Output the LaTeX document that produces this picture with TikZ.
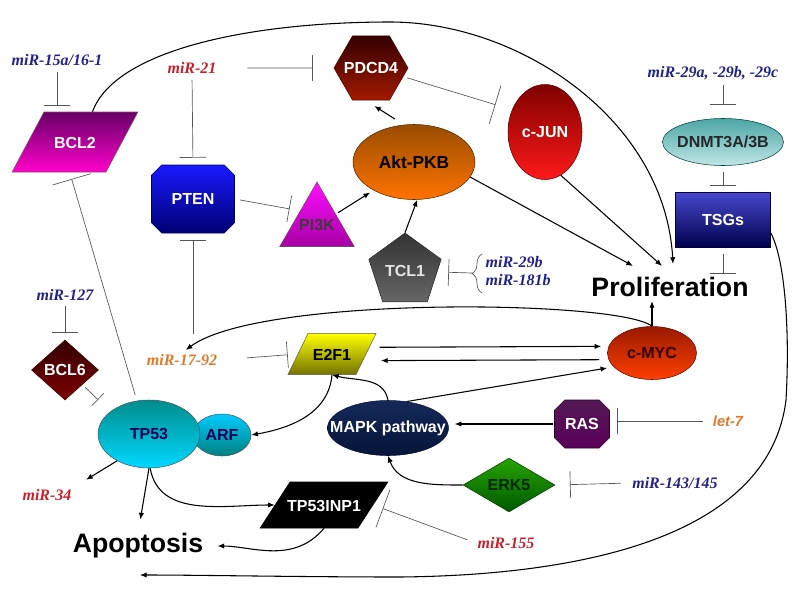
\documentclass[tikz,border=0pt]{standalone}
\usepackage{fontspec}
\setmainfont{Liberation Sans}
\newfontfamily\mirserif{Liberation Serif}
\usetikzlibrary{shapes.geometric,shapes.misc,arrows.meta,calc,decorations.pathreplacing}
\definecolor{mirblue}{HTML}{22228A}
\definecolor{mirred}{HTML}{C8202A}
\definecolor{mirorange}{HTML}{E07828}
\definecolor{inhgray}{HTML}{555555}
\definecolor{mapktop}{HTML}{15295A}
\definecolor{mapkbot}{HTML}{061538}

\begin{document}
\begin{tikzpicture}
        [x=0.75pt,y=-0.75pt,
         gene/.style ={draw,inner sep=0pt,text=white,line width=0.4pt,font=\bfseries\fontsize{12}{14}\selectfont},
         para/.style ={trapezium,text height=9pt,text depth=0pt},
         mir/.style ={inner sep=1pt,font=\mirserif\bfseries\itshape\fontsize{12}{14}\selectfont},
         big/.style ={inner sep=0pt,font=\bfseries\fontsize{20}{24}\selectfont},
         act/.style ={-{Latex[length=5pt,width=4pt]},line width=0.8pt},
         inh/.style ={-{Bar[width=20pt]},line width=0.5pt,draw=inhgray}]
        \useasboundingbox (0,0) rectangle (803,600);
        % genes
        \node[gene,para,trapezium left angle=62,trapezium right angle=118,inner xsep=23.25pt,inner ysep=18pt,top color=black!60!magenta,bottom color=magenta!80!red,draw=black!50!magenta] (bcl2) at (75,142) {\makebox[0pt]{BCL2}};
        \node[gene,regular polygon,regular polygon sides=6,minimum size=55.5pt,top color=black!80!red,bottom color=red!55!black!80!orange,draw=black!70!red] (pdcd4) at (371,68) {\makebox[0pt]{PDCD4}};
        \node[gene,ellipse,minimum width=55.5pt,minimum height=71.25pt,top color=red!50!black,bottom color=red!90!white,draw=red!40!black] (cjun) at (545,132) {c-JUN};
        \node[gene,ellipse,minimum width=91.5pt,minimum height=56.25pt,top color=orange!60!black,bottom color=orange!90!red,draw=black!70!orange,text=black,font=\bfseries\fontsize{13}{15}\selectfont] (akt) at (414,162) {Akt-PKB};
        \node[gene,chamfered rectangle,chamfered rectangle xsep=12.75pt,minimum width=62.25pt,minimum height=51pt,top color=blue!90!white,bottom color=blue!45!black,draw=blue!40!black] (pten) at (193,199) {PTEN};
        \node[gene,regular polygon,regular polygon sides=3,minimum size=64.5pt,top color=magenta!95!white,bottom color=magenta!65!black,draw=magenta!40!black,text=black!85!magenta] (pi3k) at (317,225) {\makebox[0pt]{\raisebox{-3pt}{PI3K}}};
        \node[gene,regular polygon,regular polygon sides=5,minimum size=57pt,top color=black!80,bottom color=black!60,draw=black!85,text=black!10] (tcl1) at (405,271) {TCL1};
        \node[gene,ellipse,minimum width=90.75pt,minimum height=35.25pt,top color=teal!70!white,bottom color=cyan!20!teal!25!white,draw=teal!50!black,text=black!85] (dnmt) at (723,142) {\makebox[0pt]{DNMT3A/3B}};
        \node[gene,rectangle,minimum width=71.25pt,minimum height=41.25pt,top color=blue!65!white!80!black,bottom color=blue!30!black,draw=blue!25!black] (tsgs) at (723,220) {TSGs};
        \node[gene,para,trapezium left angle=64,trapezium right angle=116,inner xsep=18pt,inner ysep=10.9pt,top color=yellow,bottom color=yellow!45!black,draw=yellow!30!black,text=black] (e2f1) at (332,354) {\makebox[0pt]{E2F1}};
        \node[gene,ellipse,minimum width=66.75pt,minimum height=39.75pt,top color=red!50!black!80!orange,bottom color=orange!50!red,draw=red!40!black,text=black!80!red] (cmyc) at (652,353) {c-MYC};
        \node[gene,ellipse,minimum width=90.75pt,minimum height=41.25pt,top color=mapktop,bottom color=mapkbot,draw=mapkbot] (mapk) at (388,428) {\makebox[0pt]{MAPK pathway}};
        \node[gene,chamfered rectangle,chamfered rectangle xsep=8.25pt,minimum width=41.25pt,minimum height=36pt,top color=violet!50!black!90,bottom color=violet!70!magenta!55!black,draw=violet!30!black] (ras) at (582,424) {RAS};
        \node[gene,diamond,minimum width=69pt,minimum height=34.5pt,top color=green!55!black!80!lime,bottom color=green!35!black,draw=green!25!black,text=black!85!green] (erk5) at (509,485) {ERK5};
        \node[gene,ellipse,minimum width=43.5pt,minimum height=31.5pt,top color=cyan!80!blue,bottom color=cyan!50!black,draw=cyan!30!black,text=blue!35!black] (arf) at (222,435) {ARF};
        \node[gene,ellipse,minimum width=76.5pt,minimum height=51pt,top color=cyan!55!black,bottom color=cyan!85!blue,draw=cyan!30!black,text=blue!35!black] (tp53) at (149,434) {TP53};
        \node[gene,diamond,minimum width=50.25pt,minimum height=45pt,top color=red!20!black,bottom color=red!50!black,draw=red!20!black] (bcl6) at (65,370) {BCL6};
        \node[gene,para,trapezium left angle=57,trapezium right angle=123,inner xsep=25.5pt,inner ysep=12.75pt,fill=black] (tp53inp1) at (324,505) {\makebox[0pt]{TP53INP1}};
        % outcomes
        \node[big] (prolif) at (670,287) {Proliferation};
        \node[big] (apop) at (138,546) {Apoptosis};
        \coordinate (apopend) at (140,575);
        % microRNAs
        \node[mir,text=mirblue] (mir15) at (57,60) {miR-15a/16-1};
        \node[mir,text=mirred] (mir21) at (192,68) {miR-21};
        \node[mir,text=mirblue] (mir29) at (713,73) {miR-29a, -29b, -29c};
        \node[mir,text=mirblue,align=left,anchor=west] (mir29b) at (484,271) {miR-29b\\miR-181b};
        \node[mir,text=mirblue] (mir127) at (65,295) {miR-127};
        \node[mir,text=mirorange] (mir17) at (182,360) {miR-17-92};
        \node[mir,text=mirorange,font=\bfseries\itshape\fontsize{11}{13}\selectfont] (let7) at (728,421) {let-7};
        \node[mir,text=mirblue] (mir143) at (675,483) {miR-143/145};
        \node[mir,text=mirred] (mir34) at (47,495) {miR-34};
        \node[mir,text=mirred] (mir155) at (506,543) {miR-155};
        \coordinate (brace) at (472,273);
        \draw[decorate,decoration={brace,amplitude=7.5pt},line width=0.5pt,draw=inhgray] (482,293) -- (482,254);
        % inhibitions
        \draw[inh,shorten <=3.5pt,shorten >=4.5pt] (mir15.south) -- (mir15.south |- bcl2.north);
        \draw[inh,shorten <=22pt,shorten >=15.75pt] (mir21.east) -- (pdcd4.west);
        \draw[inh,shorten <=3.75pt,shorten >=5.25pt] (mir21.south) -- (pten.north);
        \draw[inh,-{Bar[width=30pt]},shorten <=3pt,shorten >=13pt] (pdcd4.-15) -- (cjun.146);
        \draw[inh,shorten >=8.25pt] (brace) -- (tcl1);
        \draw[inh,shorten <=4pt,shorten >=8pt] (pten.east) -- (pi3k.140);
        \draw[inh,shorten <=14pt,shorten >=5.25pt] (pten.south |- mir17.north) -- (pten.south);
        \draw[inh,shorten <=21pt,shorten >=7.5pt] (mir17.east) -- (e2f1.west);
        \draw[inh,shorten <=6.5pt,shorten >=5.5pt] (let7.west) -- (let7.west -| ras.east);
        \draw[inh,shorten <=7.5pt,shorten >=11pt] (mir143.west) -- (erk5.east);
        \draw[inh,-{Bar[width=13pt]},shorten <=3pt,shorten >=12.75pt] (bcl6.-40) -- (tp53.150);
        \draw[inh,-{Bar[width=30pt]},shorten <=4.5pt,shorten >=5.25pt] (tp53.110) -- (bcl2.-100);
        \draw[inh,shorten <=3pt,shorten >=5.25pt] (mir127.south) -- (bcl6.north);
        \draw[inh,-{Bar[width=30pt]},shorten <=6.75pt,shorten >=7.5pt] (mir155.west) -- (tp53inp1.east);
        \draw[inh,shorten <=4.5pt,shorten >=2.25pt] (tsgs.south) -- (tsgs.south |- prolif.north);
        \draw[inh,shorten <=4.9pt,shorten >=4.9pt] (dnmt.south) -- (tsgs.north);
        \draw[inh,shorten <=3pt,shorten >=10pt] (dnmt |- mir29.south) -- (dnmt.north);
        % activations
        \draw[act,shorten <=8pt,shorten >=8pt] (akt.105) -- (pdcd4.-100);
        \draw[act,shorten <=2pt,shorten >=3pt] (pi3k.30) -- (akt.215);
        \draw[act] (tcl1.north) -- (akt.-85);
        \draw[act] (akt.-15) -- ($(prolif.north)+(-37,-11)$);
        \draw[act] (cjun.-70) -- ($(prolif.north)+(-8,-11)$);
        \draw[act] (bcl2.60) .. controls (115,50) and (250,22) .. (390,22) .. controls (520,22) and (665,120) .. ($(prolif.north)+(3,-13)$);
        \draw[act,shorten >=3.5pt] (cmyc.north) .. controls (620,300) and (260,295) .. (mir17.north);
        \draw[act,shorten >=3pt] (cmyc.north) -- (cmyc.north |- prolif.south);
        \draw[act,shorten <=10pt,shorten >=4.5pt] ([yshift=5pt]e2f1.east) -- ([yshift=5pt]cmyc.west);
        \draw[act,shorten <=6pt,shorten >=11pt] ([yshift=-5pt]cmyc.west) -- ([yshift=-5pt]e2f1.east);
        \draw[act,shorten >=5pt] (mapk.55) -- (cmyc.200);
        \draw[act,shorten <=1pt,shorten >=4.5pt] (ras.west) -- (ras.west -| mapk.east);
        \draw[act] (erk5.west) to[out=180,in=-70] (mapk.south);
        \draw[act] (mapk.north) to[out=100,in=-15] (e2f1.south);
        \draw[act] (e2f1.south) to[out=-95,in=10] (arf.east);
        \draw[act,shorten >=11.5pt] (tp53.-140) -- (mir34.north east);
        \draw[act,shorten >=10.5pt] (tp53.south) -- (apop.north);
        \draw[act] (tp53.-88) to[out=-80,in=180] (tp53inp1.west);
        \draw[act,shorten >=10.5pt] (tp53inp1.south) to[out=-130,in=0] (apop.east);
        \draw[act] (tsgs.-15) .. controls (785,260) and (790,330) .. (786,400) .. controls (770,530) and (600,575) .. (400,577) .. controls (300,577) and (200,575) .. (apopend);
    \end{tikzpicture}
\end{document}
